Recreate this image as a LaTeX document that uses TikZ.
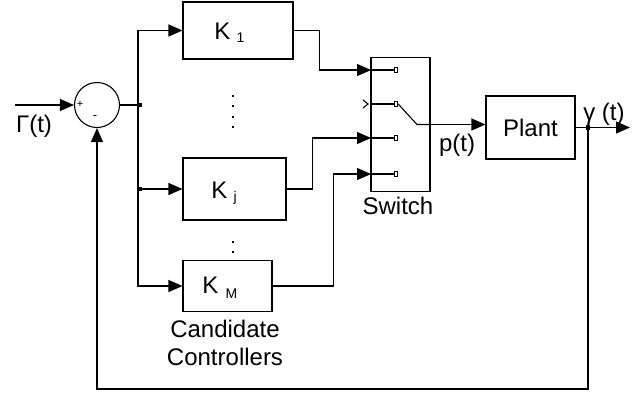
\documentclass[tikz,border=0pt]{standalone}
\usepackage{fontspec}
\setmainfont{Liberation Sans}
\usetikzlibrary{arrows.meta,calc}
\begin{document}
\begin{tikzpicture}[x=1pt,y=-1pt,
  line width=1.1pt,
  arr/.style={-{Triangle[length=14pt,width=12pt]}},
  blk/.style={draw,minimum width=#1,inner sep=0pt},
  lbl/.style={font=\fontsize{24}{28}\selectfont,inner sep=0pt},
  sml/.style={font=\fontsize{14}{16}\selectfont,inner sep=0pt},
  jdot/.style={fill,minimum size=4.5pt,inner sep=0pt},
  pdot/.style={fill,minimum size=2.5pt,inner sep=0pt},
  port/.style={draw,line width=0.9pt,minimum width=3.5pt,minimum height=5.5pt,inner sep=0pt}]
\useasboundingbox (0,0) rectangle (639,392);
% blocks
\node[draw,circle,minimum size=45pt,inner sep=0pt] (sum) at (97,105) {};
\node[font=\fontsize{11}{12}\selectfont,inner sep=0pt] (plus) at (80,104) {+};
\node[font=\fontsize{13}{14}\selectfont,inner sep=0pt] (minus) at (95,118) {-};
\node[blk=110pt,minimum height=57pt] (K1) at (238,30.5) {};
\node[blk=103pt,minimum height=62pt] (Kj) at (234.5,189) {};
\node[blk=89pt,minimum height=51pt] (KM) at (227.5,286) {};
\node[blk=59pt,minimum height=134pt] (sw) at (400.5,124.5) {};
\node[blk=89pt,minimum height=63pt] (plant) at (530.5,127.5) {};
% block texts
\node[lbl,anchor=base east] (k1t) at (231,39) {K};
\node[sml,anchor=base west] (k1s) at (236,42) {1};
\node[lbl,anchor=base east] (kjt) at (228,198) {K};
\node[sml,anchor=base west] (kjs) at (233,201) {j};
\node[lbl,anchor=base east] (kmt) at (219,293) {K};
\node[sml,anchor=base west] (kms) at (225,298) {M};
\node[lbl] (plantt) at (530.5,127.5) {Plant};
\node[lbl] (swt) at (398,206) {Switch};
\node[lbl,align=center,font=\fontsize{24}{28}\selectfont] (cc) at (225,343) {Candidate\\Controllers};
\node[lbl] (gin) at (34,126) {Γ(t)};
\node[lbl] (pt) at (457,145) {p(t)};
\node[lbl] (gout) at (604,114) {γ (t)};
% dots
\foreach \yy/\nm in {96/d1,106/d2,117/d3,127/d4,242/d5,252/d6}
  \node[pdot] (\nm) at (233,\yy) {};
% coordinates
\coordinate (in) at (15,105);
\coordinate (j1) at (138,105);
\coordinate (j2) at (138,189);
\coordinate (s1) at (371,70);
\coordinate (s2) at (371,104);
\coordinate (s3) at (371,138);
\coordinate (s4) at (371,174);
\coordinate (yout) at (630,127.5);
\coordinate (jf) at (588,127.5);
\coordinate (fb) at (588,389);
% connectors
\draw[arr] (in) -- (sum.west);
\draw (sum.east) -- (j1);
\draw[arr] (j1) |- (K1.west);
\draw (j1) -- (j2);
\draw[arr] (j2) -- (Kj.west);
\draw[arr] (j2) |- (KM.west);
\node[jdot] (jd1) at (140,105) {};
\node[jdot] (jd2) at (140,189) {};
\draw[arr] (K1.east) -- ++(26,0) |- (s1);
\draw[arr] (Kj.east) -- ++(26,0) |- (s3);
\draw[arr] (KM.east) -- ++(61,0) |- (s4);
% switch internals
\foreach \s/\yy/\p in {s1/70/p1,s2/104/p2,s3/138/p3,s4/174/p4}{
  \node[port] (\p) at (396,\yy) {};
  \draw (\s) -- (\p.west);
}
\draw (363,100) -- (368,104) -- (363,108);
\draw (p2.east) -- (417,124.5) -- (sw.east);
\draw[arr] (sw.east) -- (sw.east -| plant.west);
\draw[arr] (plant.east) -- (yout);
\node[jdot] (jd3) at (jf) {};
\draw[arr] (jf) -- (fb) -| (sum.south);
\end{tikzpicture}
\end{document}
